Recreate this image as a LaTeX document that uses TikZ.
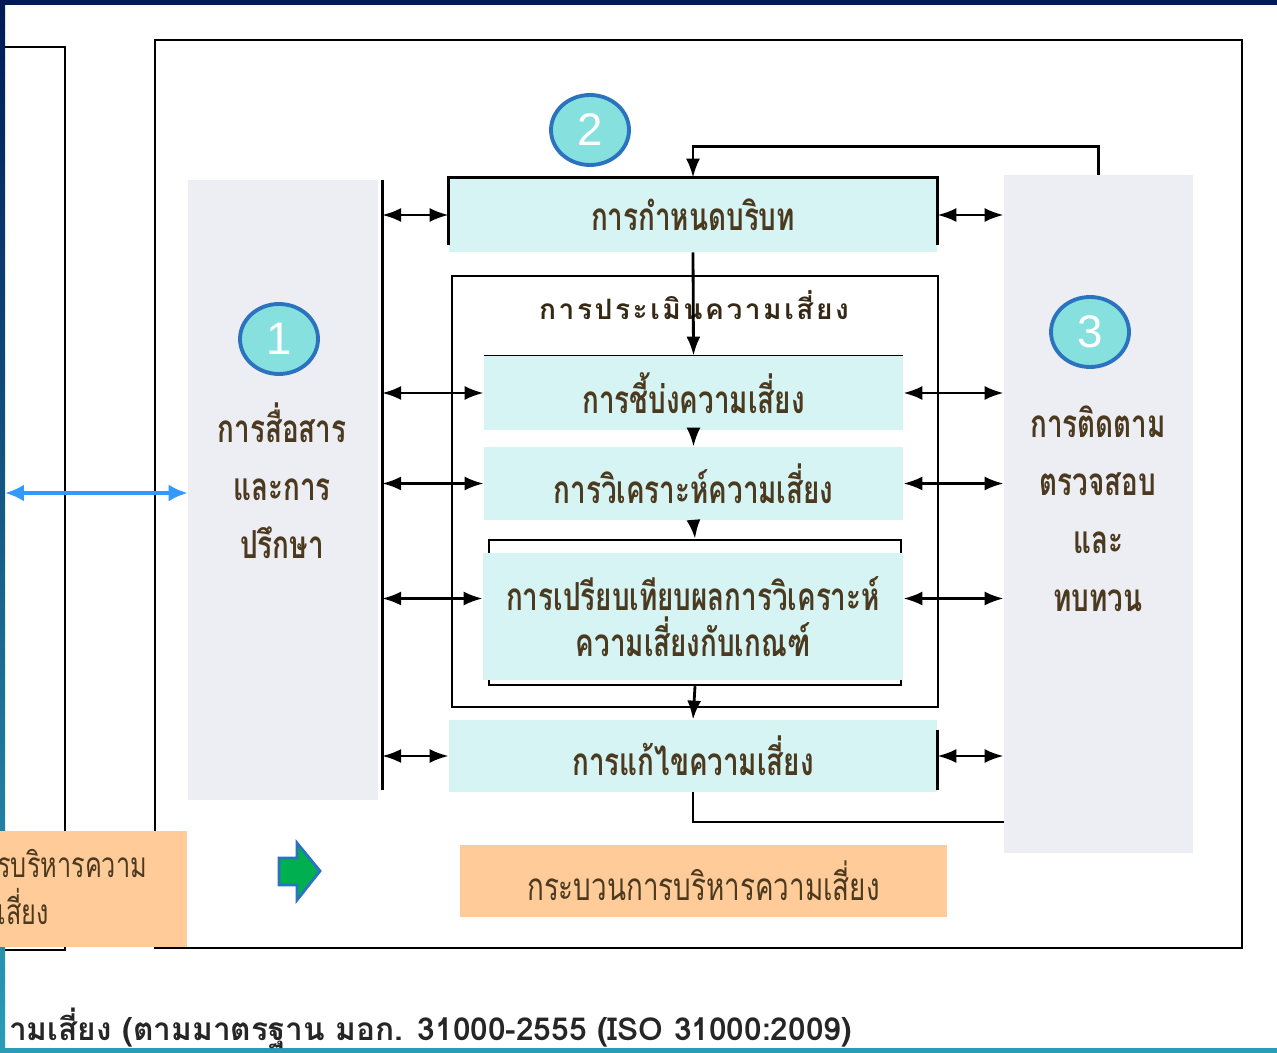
\documentclass[tikz,border=0pt]{standalone}
\usepackage{fontspec}
\setmainfont[Script=Thai]{Loma}
\newfontfamily\boxfont[Script=Thai,FakeStretch=0.72]{Loma}
\newfontfamily\numfont{Liberation Sans}
\usetikzlibrary{arrows.meta,shapes.geometric}
\definecolor{panelgray}{HTML}{EDEEF3}
\definecolor{boxcyan}{HTML}{D5F4F3}
\definecolor{numfill}{HTML}{86E1DE}
\definecolor{numline}{HTML}{2B73BE}
\definecolor{textbrown}{HTML}{4B3A1F}
\definecolor{peach}{HTML}{FFCC99}
\definecolor{linkblue}{HTML}{3399FF}
\definecolor{arrowgreen}{HTML}{00B050}
\definecolor{navy}{HTML}{001A57}
\definecolor{midblue}{HTML}{003399}
\definecolor{teal}{HTML}{2A9CB8}
\begin{document}
\begin{tikzpicture}[x=0.02cm,y=-0.02cm,
  >={Latex[length=0.38cm,width=0.28cm]},
  link/.style={line width=1.6pt},
  panel/.style={fill=panelgray,inner sep=0pt},
  procbox/.style={fill=boxcyan,inner sep=0pt,text=textbrown,
    font=\boxfont\bfseries\fontsize{22}{26}\selectfont},
  numdisk/.style={ellipse,draw=numline,fill=numfill,line width=2.2pt,
    minimum width=1.56cm,minimum height=1.4cm,text=white,
    font=\numfont\fontsize{26}{26}\selectfont},
  paneltext/.style={align=center,text=textbrown,
    font=\boxfont\bfseries\fontsize{22}{33}\selectfont},
  orangebox/.style={fill=peach,inner sep=0pt,text=textbrown,
    font=\boxfont\fontsize{22}{27}\selectfont}]
  \useasboundingbox (0,0) rectangle (1277,1053);

  % Slide border
  \fill[navy] (0,0) rectangle (1277,5);
  \shade[top color=navy,middle color=midblue,bottom color=teal] (0,0) rectangle (5,1053);
  \fill[teal] (0,1048) rectangle (1277,1053);

  % Outer frames
  \draw[line width=1.4pt] (5,47) -- (65,47) -- (65,950) -- (5,950);
  \draw[line width=1.4pt] (155,40) rectangle (1242,948);

  % Define the nodes
  \node[panel, minimum width=3.8cm, minimum height=12.4cm] (comm) at (283,490) {};
  \node[panel, minimum width=3.78cm, minimum height=13.56cm] (mon) at (1098.5,514) {};
  \node[draw, line width=1.4pt, minimum width=9.72cm, minimum height=8.62cm] (assess) at (695,491.5) {};
  \node[draw, line width=1.4pt, minimum width=8.24cm, minimum height=2.9cm] (evalframe) at (695,612.5) {};

  \node[procbox, minimum width=9.76cm, minimum height=1.48cm] (context) at (693,215) {การกำหนดบริบท};
  \node[procbox, minimum width=8.38cm, minimum height=1.48cm] (ident) at (693.5,393) {การชี้บ่งความเสี่ยง};
  \node[procbox, minimum width=8.38cm, minimum height=1.46cm] (analysis) at (693.5,483.5) {การวิเคราะห์ความเสี่ยง};
  \node[procbox, minimum width=8.4cm, minimum height=2.54cm, align=center] (evalbox) at (693,616.5)
    {การเปรียบเทียบผลการวิเคราะห์\\ความเสี่ยงกับเกณฑ์};
  \node[procbox, minimum width=9.76cm, minimum height=1.44cm] (treat) at (693,756) {การแก้ไขความเสี่ยง};

  \node[orangebox, minimum width=9.74cm, minimum height=1.44cm] (process) at (703.5,881) {กระบวนการบริหารความเสี่ยง};
  \node[orangebox, minimum width=3.74cm, minimum height=2.32cm] (frameref) at (93.5,889) {};
  \node[orangebox, fill=none, anchor=west, align=left, font=\boxfont\fontsize{20}{27}\selectfont]
    (frametext) at (-3,887) {รบริหารความ\\เสี่ยง};

  \node[numdisk] (n1) at (279,339) {1};
  \node[numdisk] (n2) at (590,130) {2};
  \node[numdisk] (n3) at (1090,332) {3};

  \node[paneltext] (commtext) at (282,481) {การสื่อสาร\\และการ\\ปรึกษา};
  \node[paneltext] (montext) at (1098,509) {การติดตาม\\ตรวจสอบ\\และ\\ทบทวน};
  \node[text=textbrown!70!black, font=\bfseries\fontsize{16}{16}\selectfont\addfontfeature{LetterSpace=9}]
    (assesslabel) at (694,305) {การประเมินความเสี่ยง};

  \node[anchor=west, text=black!85, font=\bfseries\fontsize{18}{18}\selectfont] (caption) at (3,1028)
    {ามเสี่ยง (ตามมาตรฐาน มอก. 31000-2555 (ISO 31000:2009)};

  % Box edges left from the original chart
  \draw[link] (context.south west) ++(0,-7) -- (context.north west) -- (context.north east) -- ++(0,67);
  \draw[line width=0.8pt] (ident.north west) -- (ident.north east);
  \draw[link] ([yshift=-0.2cm]treat.north east) -- ([yshift=0.04cm]treat.south east);
  \draw[link] (comm.north east) ++(4,0) -- ++(0,610);

  % Process flow
  \draw[link,->] (context.south) -- (ident.north);
  \draw[link,->] (ident.south) -- (analysis.north);
  \draw[link,->] (analysis.south) -- (evalframe.north);
  \draw[link,->] (evalframe.south) -- (treat.north);
  \draw[link,->] (mon.north) -- ++(0,-28) -| (context.north);
  \coordinate (back) at (1004,822);
  \draw[link] (treat.south) |- (back);

  % Links to communication and monitoring
  \coordinate (cl) at (382,0);
  \draw[link,<->] (cl |- context.west) -- (context.west);
  \draw[link,<->] (cl |- ident.west) -- (ident.west);
  \draw[link,<->] (cl |- analysis.west) -- (analysis.west);
  \draw[link,<->] ([yshift=0.36cm]cl |- evalbox.west) -- ([yshift=0.36cm]evalbox.west);
  \draw[link,<->] (cl |- treat.west) -- (treat.west);
  \draw[link,<->] (context.east) -- (mon.west |- context.east);
  \draw[link,<->] (ident.east) -- (mon.west |- ident.east);
  \draw[link,<->] (analysis.east) -- (mon.west |- analysis.east);
  \draw[link,<->] ([yshift=0.36cm]evalbox.east) -- ([yshift=0.36cm]mon.west |- evalbox.east);
  \draw[link,<->] (treat.east) -- (mon.west |- treat.east);

  \coordinate (leftend) at (5,493);
  \draw[linkblue, line width=2pt, {Latex[length=0.38cm,width=0.34cm]}-{Latex[length=0.38cm,width=0.34cm]}]
    (leftend) -- (comm.west |- leftend);

  % Block arrow
  \draw[numline, fill=arrowgreen, line width=1.6pt]
    (279,858) -- (297,858) -- (297,843) -- (320,871) -- (297,900) -- (297,885) -- (279,885) -- cycle;
\end{tikzpicture}
\end{document}
